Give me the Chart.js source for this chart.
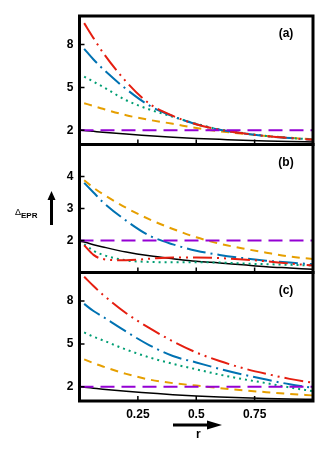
<!DOCTYPE html>
<html>
<head>
<meta charset="utf-8">
<script src="https://cdn.jsdelivr.net/npm/chart.js@4.4.0/dist/chart.umd.min.js"></script>
<style>
  html, body { margin: 0; padding: 0; background: #fff; }
  #wrap { position: relative; width: 330px; height: 452px; overflow: hidden; }
  canvas { position: absolute; left: 0; top: 0; }
  .lbl { position: absolute; font-family: "Liberation Sans", Arial, sans-serif; color: #000; white-space: nowrap; }
  .panel { font-size: 12px; font-weight: bold; line-height: 14px; width: 40px; text-align: center; }
</style>
</head>
<body>
<div id="wrap">
  <canvas id="chartA" width="330" height="452"></canvas>
  <canvas id="chartB" width="330" height="452"></canvas>
  <canvas id="chartC" width="330" height="452"></canvas>
  <div class="lbl panel" style="left:266px; top:26px;">(a)</div>
  <div class="lbl panel" style="left:266px; top:155px;">(b)</div>
  <div class="lbl panel" style="left:266px; top:283px;">(c)</div>
  <div class="lbl" style="left:15px; top:208.4px; font-size:9px; line-height:9px;">Δ</div>
  <div class="lbl" style="left:21px; top:211.5px; font-size:8px; line-height:8px; font-weight:bold;">EPR</div>
  <div class="lbl" style="left:196px; top:427.8px; font-size:12px; line-height:12px; font-weight:bold;">r</div>
</div>
<script>
// r values shared by all curves (first point only used by the black and purple lines)
const r = [0, 0.02, 0.06, 0.1, 0.2, 0.3, 0.4, 0.5, 0.6, 0.7, 0.8, 0.9, 1.0];

const xTicks = [0.25, 0.5, 0.75];
const yTicksA = [2, 5, 8];
const yTicksB = [2, 3, 4];
const yTicksC = [2, 5, 8];

// panel (a)
const blackA  = [2.0, 1.98, 1.92, 1.86, 1.73, 1.62, 1.51, 1.42, 1.36, 1.30, 1.25, 1.21, 1.18];
const purpleA = [2, 2, 2, 2, 2, 2, 2, 2, 2, 2, 2, 2, 2];
const orangeA = [null, 3.89, 3.70, 3.50, 3.05, 2.72, 2.45, 2.15, 1.93, 1.75, 1.60, 1.47, 1.36];
const greenA  = [null, 5.76, 5.40, 5.05, 4.10, 3.45, 2.94, 2.45, 2.05, 1.80, 1.60, 1.46, 1.35];
const blueA   = [null, 7.70, 6.95, 6.30, 4.88, 3.72, 2.98, 2.42, 2.03, 1.78, 1.58, 1.45, 1.34];
const redA    = [null, 9.50, 8.45, 7.45, 5.40, 3.85, 3.00, 2.42, 2.04, 1.78, 1.59, 1.45, 1.34];

// panel (b)
const blackB  = [1.98, 1.95, 1.87, 1.80, 1.64, 1.52, 1.43, 1.35, 1.30, 1.24, 1.18, 1.14, 1.10];
const purpleB = [2, 2, 2, 2, 2, 2, 2, 2, 2, 2, 2, 2, 2];
const orangeB = [null, 3.88, 3.65, 3.45, 3.02, 2.66, 2.36, 2.10, 1.90, 1.75, 1.62, 1.50, 1.42];
const greenB  = [null, 1.88, 1.68, 1.55, 1.38, 1.33, 1.32, 1.32, 1.31, 1.28, 1.26, 1.24, 1.22];
const blueB   = [null, 3.80, 3.50, 3.20, 2.62, 2.15, 1.88, 1.68, 1.55, 1.45, 1.37, 1.31, 1.26];
const redB    = [null, 1.85, 1.55, 1.42, 1.38, 1.43, 1.47, 1.47, 1.45, 1.41, 1.35, 1.28, 1.22];

// panel (c)
const blackC  = [2.0, 1.97, 1.90, 1.83, 1.68, 1.56, 1.44, 1.35, 1.28, 1.22, 1.17, 1.14, 1.12];
const purpleC = [2, 2, 2, 2, 2, 2, 2, 2, 2, 2, 2, 2, 2];
const orangeC = [null, 3.92, 3.65, 3.42, 2.90, 2.50, 2.25, 2.08, 1.90, 1.75, 1.62, 1.50, 1.39];
const greenC  = [null, 5.80, 5.50, 5.25, 4.60, 4.05, 3.60, 3.22, 2.85, 2.53, 2.25, 1.95, 1.69];
const blueC   = [null, 7.80, 7.30, 6.90, 5.86, 4.90, 4.15, 3.70, 3.25, 2.85, 2.50, 2.17, 1.93];
const redC    = [null, 9.70, 9.05, 8.45, 7.15, 6.10, 5.18, 4.40, 3.80, 3.30, 2.90, 2.55, 2.28];

const FONT = '"Liberation Sans", Arial, sans-serif';
const LEFT = 79.5, RIGHT = 313;

function pts(arr) {
  return r.map((x, i) => ({ x: x, y: arr[i] })).filter(p => p.y !== null);
}

function line(arr, color, dash, width) {
  return {
    data: pts(arr),
    borderColor: color,
    borderWidth: width || 2,
    borderDash: dash,
    pointRadius: 0,
    fill: false,
    cubicInterpolationMode: 'monotone'
  };
}

// frame around the plot area plus small inward tick marks
const frame = {
  id: 'frame',
  afterDatasetsDraw(chart, args, opts) {
    const { ctx, chartArea: a, scales } = chart;
    ctx.save();
    ctx.strokeStyle = '#000';
    ctx.lineWidth = 1.5;
    ctx.beginPath();
    xTicks.forEach(v => {
      const px = scales.x.getPixelForValue(v);
      ctx.moveTo(px, a.bottom);
      ctx.lineTo(px, a.bottom - 5);
    });
    opts.yTicks.forEach(v => {
      const py = scales.y.getPixelForValue(v);
      ctx.moveTo(a.left, py);
      ctx.lineTo(a.left + 5, py);
    });
    ctx.stroke();
    ctx.lineWidth = 3;
    ctx.strokeRect(a.left, a.top, a.right - a.left, a.bottom - a.top);
    ctx.restore();
  }
};

// arrows next to the axis labels
const arrows = {
  id: 'arrows',
  afterDraw(chart) {
    const ctx = chart.ctx;
    ctx.save();
    ctx.fillStyle = '#000';
    ctx.fillRect(50, 199, 3, 26);
    ctx.beginPath();
    ctx.moveTo(47.5, 200); ctx.lineTo(55.5, 200); ctx.lineTo(51.5, 191);
    ctx.closePath(); ctx.fill();
    ctx.fillRect(173, 423.5, 35, 3);
    ctx.beginPath();
    ctx.moveTo(207, 420.5); ctx.lineTo(207, 429.5); ctx.lineTo(222, 425);
    ctx.closePath(); ctx.fill();
    ctx.restore();
  }
};

function makeChart(id, series, yMax, yTicks, top, bottom, showX) {
  const [black, purple, orange, green, blue, red] = series;
  return new Chart(document.getElementById(id), {
    type: 'line',
    data: {
      datasets: [
        line(purple, '#9400d3', [14, 7], 2),
        line(red, '#e51e10', [19, 5, 2, 5, 2, 5], 2),
        line(blue, '#0072b2', [19, 5, 2, 5], 2),
        line(green, '#009e73', [2, 4], 2),
        line(orange, '#e69f00', [8, 6], 2),
        line(black, '#000000', [], 1.5)
      ]
    },
    options: {
      responsive: false,
      animation: false,
      layout: { padding: { left: 0, right: 330 - RIGHT, top: top, bottom: showX ? 0 : 452 - bottom } },
      plugins: { legend: { display: false }, tooltip: { enabled: false }, frame: { yTicks: yTicks } },
      scales: {
        x: {
          type: 'linear',
          min: 0,
          max: 1,
          display: showX,
          afterBuildTicks: s => { s.ticks = xTicks.map(v => ({ value: v })); },
          afterFit: s => { if (showX) s.height = 452 - bottom; },
          grid: { display: false, drawTicks: false },
          border: { display: false },
          ticks: {
            padding: 6,
            color: '#000',
            font: { family: FONT, size: 12, weight: 'bold' },
            callback: v => String(v)
          }
        },
        y: {
          min: 1,
          max: yMax,
          afterBuildTicks: s => { s.ticks = yTicks.map(v => ({ value: v })); },
          afterFit: s => { s.width = LEFT; },
          grid: { display: false, drawTicks: false },
          border: { display: false },
          ticks: {
            padding: 6,
            color: '#000',
            font: { family: FONT, size: 12, weight: 'bold' },
            callback: v => String(v)
          }
        }
      }
    },
    plugins: showX ? [frame, arrows] : [frame]
  });
}

makeChart('chartA', [blackA, purpleA, orangeA, greenA, blueA, redA], 10, yTicksA, 16, 144.5, false);
makeChart('chartB', [blackB, purpleB, orangeB, greenB, blueB, redB], 5, yTicksB, 144.5, 272.5, false);
makeChart('chartC', [blackC, purpleC, orangeC, greenC, blueC, redC], 10, yTicksC, 272.5, 401, true);
</script>
</body>
</html>
